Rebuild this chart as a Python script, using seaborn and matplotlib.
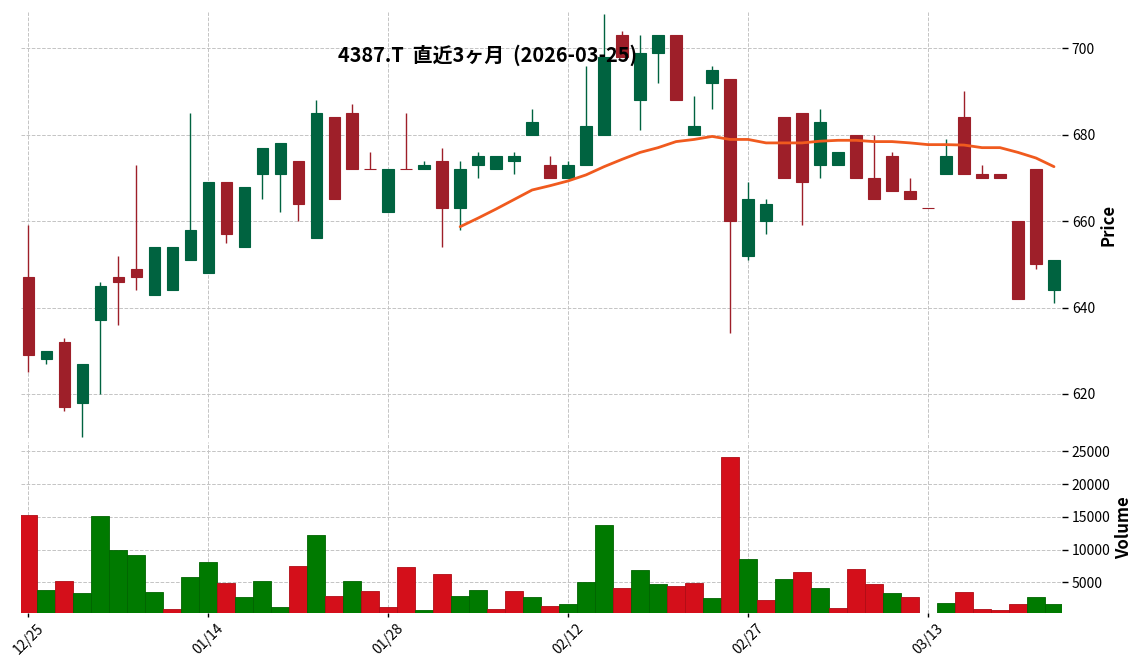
import numpy as np
import pandas as pd
import seaborn as sns
import matplotlib
matplotlib.use("Agg")
import matplotlib.pyplot as plt

# trading days (MM/DD)
dates = ["12/25", "12/26", "12/29", "12/30", "01/05", "01/06", "01/07", "01/08", "01/09", "01/13",
         "01/14", "01/15", "01/16", "01/19", "01/20", "01/21", "01/22", "01/23", "01/26", "01/27",
         "01/28", "01/29", "01/30", "02/02", "02/03", "02/04", "02/05", "02/06", "02/09", "02/10",
         "02/12", "02/13", "02/16", "02/17", "02/18", "02/19", "02/20", "02/24", "02/25", "02/26",
         "02/27", "03/02", "03/03", "03/04", "03/05", "03/06", "03/09", "03/10", "03/11", "03/12",
         "03/13", "03/16", "03/17", "03/18", "03/19", "03/23", "03/24", "03/25"]

opens = [647, 628, 632, 618, 637, 647, 649, 643, 644, 651,
         648, 669, 654, 671, 671, 674, 656, 684, 685, 672,
         662, 672, 672, 674, 663, 673, 672, 674, 680, 673,
         670, 673, 680, 703, 688, 699, 703, 680, 692, 693,
         652, 660, 684, 685, 673, 673, 680, 670, 675, 667,
         663, 671, 684, 671, 671, 660, 672, 644]
highs = [659, 630, 633, 627, 646, 652, 673, 654, 654, 685,
         669, 669, 668, 677, 678, 674, 688, 684, 687, 676,
         672, 685, 674, 677, 674, 676, 675, 676, 686, 675,
         674, 696, 708, 704, 703, 703, 703, 689, 696, 693,
         669, 665, 684, 685, 686, 676, 680, 680, 676, 670,
         663, 679, 690, 673, 671, 660, 672, 651]
lows = [625, 627, 616, 610, 620, 636, 644, 643, 644, 651,
        648, 655, 654, 665, 662, 660, 656, 665, 672, 672,
        662, 672, 672, 654, 658, 670, 672, 671, 680, 670,
        670, 673, 680, 698, 681, 692, 688, 680, 686, 634,
        651, 657, 670, 659, 670, 673, 670, 665, 667, 665,
        663, 671, 671, 670, 670, 642, 649, 641]
closes = [629, 630, 617, 627, 645, 646, 647, 654, 654, 658,
          669, 657, 668, 677, 678, 664, 685, 665, 672, 672,
          672, 672, 673, 663, 672, 675, 675, 675, 683, 670,
          673, 682, 698, 698, 699, 703, 688, 682, 695, 660,
          665, 664, 670, 669, 683, 676, 670, 665, 667, 665,
          663, 675, 671, 670, 670, 642, 650, 651]
volumes = [15250, 3830, 5200, 3380, 15100, 9970, 9160, 3530, 940, 5810,
           8100, 4900, 2770, 5200, 1240, 7490, 12210, 2920, 5200, 3680,
           1240, 7340, 790, 6270, 2920, 3830, 940, 3680, 2770, 1400,
           1700, 5050, 13730, 4140, 6880, 4750, 4440, 4900, 2610, 24090,
           8550, 2310, 5510, 6570, 4140, 1090, 7030, 4750, 3380, 2770,
           0, 1850, 3530, 940, 790, 1700, 2770, 1700]
# 25-day moving average (starts at 02/03)
ma25 = [np.nan] * 24 + [658.7, 660.7, 662.8, 665.0, 667.2, 668.2, 669.3, 670.7, 672.6, 674.3,
                        675.9, 677.0, 678.4, 678.9, 679.6, 678.9, 678.9, 678.1, 678.1, 678.1,
                        678.5, 678.7, 678.7, 678.4, 678.4, 678.1, 677.7, 677.7, 677.6, 677.0,
                        677.0, 675.9, 674.6, 672.6]

df = pd.DataFrame({"date": dates, "open": opens, "high": highs, "low": lows,
                   "close": closes, "volume": volumes, "ma25": ma25})
df["pos"] = np.arange(len(df))
df["up"] = df["close"] > df["open"]
vup = df["close"] > df["close"].shift(1)
vup.iloc[0] = df["up"].iloc[0]
df["vup"] = vup

sns.set_theme(style="white")
plt.rcParams["font.family"] = ["Noto Sans CJK JP", "DejaVu Sans"]
plt.rcParams.update({"text.color": "black", "axes.labelcolor": "black",
                     "xtick.color": "black", "ytick.color": "black"})

up_c, dn_c = "#006340", "#9e1f29"
vup_c, vdn_c = "#007a00", "#d40f1a"

fig = plt.figure(figsize=(11.44, 6.70), dpi=100)
ax1 = fig.add_axes([0.0184, 0.3463, 0.910, 0.6358])
ax2 = fig.add_axes([0.0184, 0.0855, 0.910, 0.2548], sharex=ax1)

# candles
cc = np.where(df["up"], up_c, dn_c)
ax1.vlines(df["pos"], df["low"], df["high"], colors=cc, linewidth=1.0, zorder=2)
ax1.bar(df["pos"], (df["close"] - df["open"]).abs(),
        bottom=df[["open", "close"]].min(axis=1), width=0.63,
        color=cc, edgecolor=cc, linewidth=0.8, zorder=3)

# moving average
sns.lineplot(x=df["pos"], y=df["ma25"], ax=ax1, color="#f05a1e", linewidth=2.0, zorder=4)

# volume
vc = np.where(df["vup"], vup_c, vdn_c)
ve = np.where(df["vup"], "#006400", "#b00c15")
ax2.bar(df["pos"], df["volume"], width=1.0, color=vc, edgecolor=ve, linewidth=0.6, zorder=3)

for ax in (ax1, ax2):
    ax.grid(True, linestyle="--", color="#c4c4c4", linewidth=0.7, zorder=0)
    for s in ax.spines.values():
        s.set_visible(False)
    ax.yaxis.tick_right()
    ax.yaxis.set_label_position("right")
    ax.tick_params(axis="y", right=True, left=False, length=4, width=1.0,
                   color="black", labelsize=10, pad=3)

ax1.set_xlim(-0.4, 57.45)
ax1.set_ylim(609.8, 708.4)
ax1.set_yticks([620, 640, 660, 680, 700])
ax1.set_xticks(df["pos"][::10])
ax1.tick_params(axis="x", bottom=False, labelbottom=False)
ax1.set_xlabel("")
ax1.set_ylabel("Price", fontsize=12, fontweight="bold", labelpad=3)

ax2.set_ylim(380, 26450)
ax2.set_yticks([5000, 10000, 15000, 20000, 25000])
ax2.set_xticks(df["pos"][::10])
ax2.set_xticklabels(df["date"][::10], rotation=45, ha="center")
ax2.tick_params(axis="x", bottom=True, length=3, width=1.0, color="black", labelsize=10, pad=3)
ax2.set_ylabel("Volume", fontsize=12, fontweight="bold", labelpad=3)

fig.text(0.4266, 0.918, "4387.T  直近3ヶ月  (2026-03-25)", ha="center", va="center",
         fontsize=14.3, fontweight="bold")

fig.savefig("out.png", dpi=100)
